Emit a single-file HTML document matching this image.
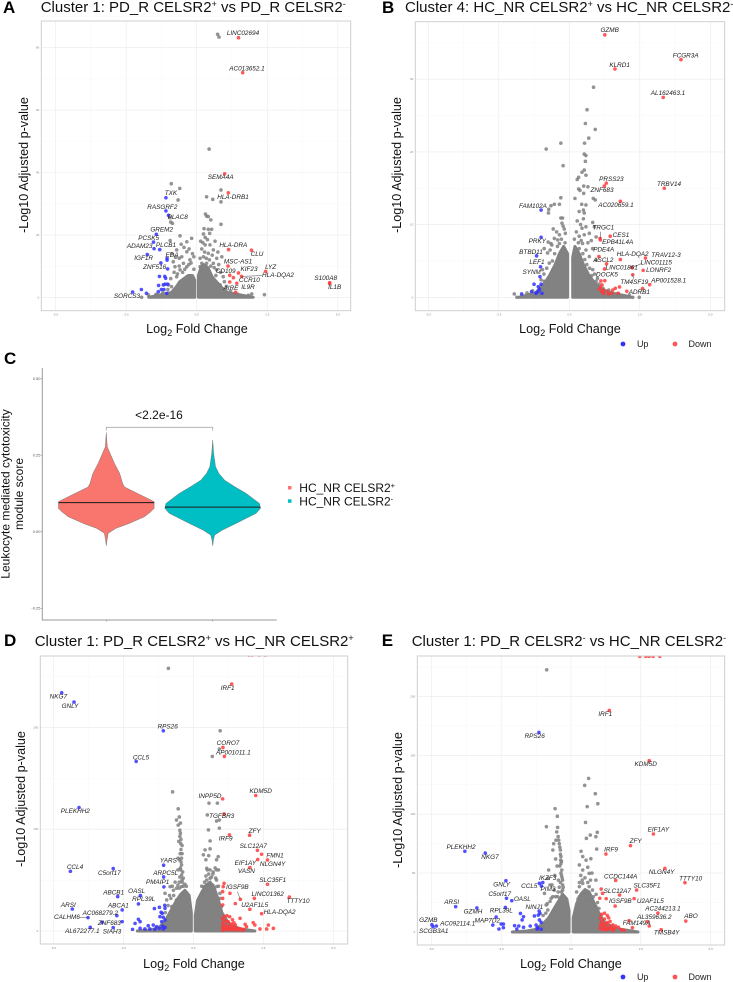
<!DOCTYPE html>
<html lang="en">
<head>
<meta charset="utf-8">
<title>CELSR2 volcano plots and cytotoxicity violin</title>
<style>
html,body{margin:0;padding:0;background:#fff;width:733px;height:982px;overflow:hidden}
svg{display:block;font-family:"Liberation Sans",sans-serif}
.ttl{font-size:15px;fill:#111}
.ltr{font-size:17px;font-weight:bold;fill:#000}
.axt{font-size:12.6px;fill:#111;text-anchor:middle}
.gl text{font:italic 19.2px "Liberation Sans",sans-serif;fill:#222;text-anchor:middle;dominant-baseline:central}
.gl line{stroke:#444;stroke-width:1.5}
.tick{font-size:3px;fill:#888}
.leg{font-size:9px;fill:#222}
</style>
</head>
<body>
<svg id="fig" xmlns="http://www.w3.org/2000/svg" width="733" height="982" viewBox="0 0 733 982">
<text class="ltr" x="3" y="13">A</text>
<text class="ttl" x="40.7" y="12">Cluster 1: PD_R CELSR2<tspan font-size="9" dy="-5">+</tspan><tspan dy="5"> vs PD_R CELSR2</tspan><tspan font-size="9" dy="-5">-</tspan></text>
<text class="ltr" x="382" y="13">B</text>
<text class="ttl" x="405" y="12">Cluster 4: HC_NR CELSR2<tspan font-size="9" dy="-5">+</tspan><tspan dy="5"> vs HC_NR CELSR2</tspan><tspan font-size="9" dy="-5">-</tspan></text>
<text class="ltr" x="4" y="364">C</text>
<text class="ltr" x="4" y="646">D</text>
<text class="ttl" x="34.7" y="646">Cluster 1: PD_R CELSR2<tspan font-size="9" dy="-5">+</tspan><tspan dy="5"> vs HC_NR CELSR2</tspan><tspan font-size="9" dy="-5">+</tspan></text>
<text class="ltr" x="381.7" y="646">E</text>
<text class="ttl" x="411.7" y="646">Cluster 1: PD_R CELSR2<tspan font-size="9" dy="-5">-</tspan><tspan dy="5"> vs HC_NR CELSR2</tspan><tspan font-size="9" dy="-5">-</tspan></text>

<text class="axt" x="197" y="333">Log<tspan font-size="9" dy="3">2</tspan><tspan dy="-3"> Fold Change</tspan></text>
<text class="axt" x="570" y="333">Log<tspan font-size="9" dy="3">2</tspan><tspan dy="-3"> Fold Change</tspan></text>
<text class="axt" x="194" y="968">Log<tspan font-size="9" dy="3">2</tspan><tspan dy="-3"> Fold Change</tspan></text>
<text class="axt" x="571" y="968">Log<tspan font-size="9" dy="3">2</tspan><tspan dy="-3"> Fold Change</tspan></text>
<text class="axt" transform="translate(28,165) rotate(-90)">-Log10 Adjusted p-value</text>
<text class="axt" transform="translate(401,165) rotate(-90)">-Log10 Adjusted p-value</text>
<text class="axt" transform="translate(25,799) rotate(-90)">-Log10 Adjusted p-value</text>
<text class="axt" transform="translate(402,800) rotate(-90)">-Log10 Adjusted p-value</text>

<g id="marks-a"></g>
<g id="marks-b"></g>
<g id="marks-c"></g>
<g id="marks-d"></g>
<g id="marks-e"></g>

<g class="gl" transform="scale(.33333)">
<line x1="725" y1="829" x2="785" y2="827"/>
<text x="729" y="101">LINC02694</text>
<text x="741" y="207">AC013652.1</text>
<text x="662" y="533">SEMA4A</text>
<text x="699" y="592">HLA-DRB1</text>
<text x="513" y="581">TXK</text>
<text x="487" y="622">RASGRF2</text>
<text x="533" y="652">PLAC8</text>
<text x="485" y="690">GREM2</text>
<text x="446" y="715">PCSK5</text>
<text x="419" y="739">ADAM23</text>
<text x="498" y="737">PLCB1</text>
<text x="700" y="737">HLA-DRA</text>
<text x="771" y="764">CLU</text>
<text x="516" y="766">EDA</text>
<text x="431" y="776">IGF1R</text>
<text x="714" y="786">MSC-AS1</text>
<text x="464" y="802">ZNF516</text>
<text x="812" y="803">LYZ</text>
<text x="747" y="808">KIF23</text>
<text x="677" y="815">CD109</text>
<text x="834" y="826">HLA-DQA2</text>
<text x="748" y="842">CCR10</text>
<text x="977" y="836">S100A8</text>
<text x="693" y="865">AIRE</text>
<text x="744" y="863">IL9R</text>
<text x="1004" y="863">IL1B</text>
<text x="381" y="889">SORCS3</text>
</g>

<g class="gl" transform="translate(366,0) scale(.33333)">
<line x1="703" y1="695" x2="703" y2="715"/>
<line x1="798" y1="803" x2="828" y2="790"/>
<line x1="800" y1="824" x2="803" y2="838"/>
<text x="731" y="92">GZMB</text>
<text x="959" y="168">FCGR3A</text>
<text x="761" y="197">KLRD1</text>
<text x="906" y="281">AL162463.1</text>
<text x="736" y="538">PRSS23</text>
<text x="909" y="553">TRBV14</text>
<text x="708" y="571">ZNF683</text>
<text x="501" y="619">FAM102A</text>
<text x="750" y="617">AC020659.1</text>
<text x="712" y="684">TRGC1</text>
<text x="765" y="707">CES1</text>
<text x="514" y="724">PRKY</text>
<text x="755" y="728">EPB41L4A</text>
<text x="713" y="750">PDE4A</text>
<text x="495" y="757">BTBD11</text>
<text x="800" y="764">HLA-DQA2</text>
<text x="900" y="766">TRAV12-3</text>
<text x="712" y="782">ASCL2</text>
<text x="513" y="788">LEF1</text>
<text x="871" y="789">LINC01115</text>
<text x="767" y="804">LINC01861</text>
<text x="878" y="811">LONRF2</text>
<text x="497" y="818">SYNM</text>
<text x="723" y="825">DOCK5</text>
<text x="908" y="843">AP001528.1</text>
<text x="805" y="848">TM4SF19</text>
<text x="820" y="877">ADRB1</text>
</g>

<g class="gl" transform="translate(0,630) scale(.33333)">
<line x1="240" y1="862" x2="264" y2="862"/>
<line x1="712" y1="785" x2="721" y2="808"/>
<text x="175" y="201">NKG7</text>
<text x="210" y="229">GNLY</text>
<text x="503" y="291">RPS26</text>
<text x="683" y="175">IRF1</text>
<text x="684" y="340">CORO7</text>
<text x="700" y="369">AP001011.1</text>
<text x="423" y="384">CCL5</text>
<text x="782" y="484">KDM5D</text>
<text x="630" y="499">INPP5D</text>
<text x="226" y="545">PLEKHH2</text>
<text x="665" y="560">TGFBR3</text>
<text x="764" y="604">ZFY</text>
<text x="677" y="627">IRF9</text>
<text x="760" y="650">SLC12A7</text>
<text x="825" y="678">FMN1</text>
<text x="736" y="700">EIF1AY</text>
<text x="818" y="703">NLGN4Y</text>
<text x="505" y="693">YARS</text>
<text x="225" y="713">CCL4</text>
<text x="739" y="725">VASN</text>
<text x="328" y="730">C5orf17</text>
<text x="497" y="730">ARPC5L</text>
<text x="818" y="752">SLC35F1</text>
<text x="473" y="758">PMAIP1</text>
<text x="712" y="773">IGSF9B</text>
<text x="410" y="785">OASL</text>
<text x="341" y="789">ABCB1</text>
<text x="803" y="794">LINC01362</text>
<text x="431" y="808">RPL39L</text>
<text x="894" y="814">TTTY10</text>
<text x="205" y="826">ARSI</text>
<text x="355" y="828">ABCA1</text>
<text x="764" y="826">U2AF1L5</text>
<text x="839" y="848">HLA-DQA2</text>
<text x="301" y="850">AC068279.2</text>
<text x="201" y="863">CALHM6</text>
<text x="328" y="881">ZNF683</text>
<text x="247" y="904">AL672277.1</text>
<text x="336" y="906">SIAH3</text>
</g>

<g class="gl" transform="translate(366,630) scale(.33333)">
<text x="506" y="319">RPS26</text>
<text x="718" y="253">IRF1</text>
<text x="839" y="404">KDM5D</text>
<text x="877" y="600">EIF1AY</text>
<text x="809" y="634">ZFY</text>
<text x="285" y="652">PLEKHH2</text>
<text x="735" y="660">IRF9</text>
<text x="372" y="682">NKG7</text>
<text x="887" y="727">NLGN4Y</text>
<text x="764" y="741">CCDC144A</text>
<text x="974" y="747">TTTY10</text>
<text x="545" y="746">IKZF3</text>
<text x="407" y="765">GNLY</text>
<text x="490" y="769">CCL5</text>
<text x="843" y="768">SLC35F1</text>
<text x="546" y="778">PIM3</text>
<text x="754" y="785">SLC12A7</text>
<text x="401" y="793">C5orf17</text>
<text x="469" y="808">OASL</text>
<text x="853" y="814">U2AF1L5</text>
<text x="763" y="815">IGSF9B</text>
<text x="257" y="818">ARSI</text>
<text x="505" y="832">NINJ1</text>
<text x="891" y="837">AC244213.1</text>
<text x="406" y="843">RPL39L</text>
<text x="321" y="846">GZMH</text>
<text x="975" y="860">ABO</text>
<text x="865" y="862">AL359636.2</text>
<text x="187" y="872">GZMB</text>
<text x="364" y="873">MAP7D2</text>
<text x="812" y="881">FAM149A</text>
<text x="275" y="882">AC092114.1</text>
<text x="203" y="904">SCGB3A1</text>
<text x="902" y="909">TMSB4Y</text>
</g>

<g>
<circle cx="623" cy="344" r="2.4" fill="#3333ff"/>
<text class="leg" x="642.7" y="347" text-anchor="middle">Up</text>
<circle cx="675" cy="344" r="2.4" fill="#ff5555"/>
<text class="leg" x="700" y="347" text-anchor="middle">Down</text>
</g>
<g>
<circle cx="623" cy="977" r="2.4" fill="#3333ff"/>
<text class="leg" x="642.7" y="980" text-anchor="middle">Up</text>
<circle cx="675" cy="977" r="2.4" fill="#ff5555"/>
<text class="leg" x="700" y="980" text-anchor="middle">Down</text>
</g>

<g>
<text transform="translate(9.5,494) rotate(-90)" font-size="12" text-anchor="middle" fill="#111">Leukocyte mediated cytotoxicity</text>
<text transform="translate(23,494) rotate(-90)" font-size="12" text-anchor="middle" fill="#111">module score</text>
<text x="159" y="419" font-size="12" text-anchor="middle" fill="#111">&lt;2.2e-16</text>
<rect x="288" y="486" width="3.5" height="3.5" fill="#F8766D"/>
<rect x="288" y="499.3" width="3.5" height="3.5" fill="#00BFC4"/>
<text x="299.3" y="492" font-size="12" fill="#111">HC_NR CELSR2<tspan font-size="7.5" dy="-4">+</tspan></text>
<text x="299.3" y="505.3" font-size="12" fill="#111">HC_NR CELSR2<tspan font-size="7.5" dy="-4">-</tspan></text>
</g>

<script>
// ---------- shared tick arrays ----------
const xTickValues = [-5, -2.5, 0, 2.5, 5];
const xTickLabels = ["-5.0", "-2.5", "0.0", "2.5", "5.0"];
const yTicksA = [0, 20, 40, 60, 80];
const yTicksB = [0, 10, 20, 30];
const yTicksD = [0, 100, 200];
const yTicksE = [0, 50, 100, 150, 200];

// ---------- panel A values: [log2FC, -log10 p] ----------
const redA = [[1.48,83.2],[1.63,72],[.99,39.6],[1.12,33.5],[1.13,15.3],[1.94,15.1],[1.11,10],[2.44,8.3],[1.48,7.8],[1.17,7.05],[1.3,6.3],[1.59,6.7],[1.42,4.5],[1.17,4.9],[1.38,1.6],[4.71,4.7],[4.71,4.4]];
const blueA = [[-1.09,31.9],[-1.09,27.7],[-1,26.3],[-1.43,20.2],[-1.53,17.7],[-1.51,15.6],[-1.31,15.3],[-1.75,13.7],[-1.05,12.5],[-1.05,11.9],[-1.27,11],[-1.03,9.1],[-1.32,6.7],[-1.13,6.7],[-1.1,6.1],[-1.35,3.8],[-1.18,4],[-1.12,4.2],[-1.03,4.2],[-1.36,1.8],[-1.25,2.5],[-1.16,2.5],[-1.06,1.3],[-2.27,1.7],[-1.96,2.5],[-1.78,1.3]];
const grayA = [[.74,84.3],[.79,83.4],[.44,47.5],[-.9,36.4],[-.6,34.9],[-.66,31.2],[.86,34.4],[.35,32.2],[.57,31.4],[.86,30.6],[.31,26.7],[.35,26],[.41,25.9],[.5,24.8],[.86,23.4],[-.94,25.5],[-.92,24.1],[-.86,23.7],[-.59,19.7],[-.18,18.9],[-.35,17.8],[-.94,18.2],[-.71,15.2],[-.35,14.6],[-.53,13],[-.83,11.4],[-.77,9.8],[.24,20.3],[.41,21.8],[.53,21.8],[.3,19.2],[.47,16.8],[.3,16.8],[.59,15.2],[.24,13],[.71,12.5],[.89,13],[.59,10.9],[.35,10.9],[.71,8.8],[.41,14.1],[.18,10.9],[.12,9.8],[.94,6.6],[.83,4],[-.47,10.9],[-.24,12],[-.59,8.8],[-.35,9.8],[-.71,6.6],[-.89,3.4],[2.4,.85],[1.95,1.07],[1.83,.64],[-1.95,0],[-1.71,.75],[-1.42,1]];
const midGrayA = [[-.2,11],[-.1,9],[-.28,10.5],[-.42,9],[-.5,8],[-.62,10],[-.68,7.5],[-.8,8],[-.92,6],[-1,4],[-.15,14],[-.27,15.5],[-.45,16],[-.55,17],[-.62,12.5],[-.75,12.8],[-.88,14],[-1.02,2.5],[-.1,13],[.12,12.5],[.18,15.5],[.22,17.5],[.28,14.5],[.34,12.5],[.45,12],[.5,10],[.55,13.5],[.62,9.5],[.68,7],[.78,10.5],[.85,8],[.98,5],[1.05,3.5],[1.2,2],[.14,18],[.38,18.5],[.46,20.5],[.26,22],[.65,18],[.75,14.5],[.16,8.5],[-1.2,1.5],[-1.45,.8],[1.45,1]];
const cloudLeftA = [[-.07,5.5],[-.15,7],[-.3,7],[-.45,6],[-.6,5],[-.75,3],[-.9,1.5],[-1.3,.8],[-1.7,0]];
const cloudRightA = [[.06,7],[.15,9.5],[.25,10.5],[.4,9.5],[.55,6.5],[.7,5],[.9,3],[1.1,1.5],[1.7,.5],[2,0]];

// ---------- panel B values ----------
const redB = [[1.26,36.1],[3.96,32.7],[1.62,31.4],[3.33,27.5],[1.31,15.7],[1.24,15.3],[3.37,15],[1.81,13.2],[1.09,8.1],[1.1,7.9],[1.45,8.4],[1.05,5.6],[1.81,5.2],[2.7,5.4],[1.32,4.6],[2.22,4.1],[1.25,3.9],[2.62,3.7],[2.25,3.1],[2.85,1.74],[2.6,1.2],[2.04,.83],[1.12,2.25],[1.26,2.29],[1.16,1.7],[1.1,1.38],[1.06,1.1],[1.16,.78],[1.21,.55],[1.36,.78],[1.54,1],[1.63,1.24],[1.78,1.42],[1.51,.55],[1.74,.55],[1.21,1],[1.39,.46]];
const blueB = [[-1,12],[-1,8.26],[-1.16,5.7],[-1.02,4.2],[-1.04,2.84],[-1.25,1.8],[-1,1.8],[-1.1,1.47],[-1.06,1.1],[-1.34,.78],[-1.16,.64],[-1.09,.87],[-.97,.55],[-1.18,.55],[-1.69,.46]];
const grayB = [[.86,28.9],[.63,25.8],[.57,23.9],[.92,23.1],[.69,21.9],[-.3,21.2],[.54,21.2],[-.82,20.4],[.53,19.7],[.59,19.5],[.57,18.7],[-.22,18.1],[.53,17.5],[.45,17.2],[.59,16.8],[.33,16.5],[.28,16.2],[.51,15.3],[.66,15.2],[.33,14.9],[.38,14.7],[.51,14.3],[.2,13.6],[.85,13.6],[.92,13.4],[-.3,13.7],[-.35,12.8],[-.53,12.8],[-.65,12.6],[-.73,12.1],[-.74,11.6],[.44,12.8],[.59,12.7],[.5,12],[.35,11.8],[.53,11.6],[-.3,10.9],[-.24,10.9],[-.26,10.2],[-.57,9.4],[-.18,9.4],[-.14,8.8],[.83,10.3],[.59,9.7],[.89,9.7],[.45,9.5],[.53,8.6],[.71,8.8],[.95,8.3],[.35,8.4],[-.53,8.1],[-.41,7.9],[-.65,7.4],[-.35,7.4],[-.89,6.7],[-.77,6.1],[-.18,6.7],[.35,6.7],[.59,6.5],[.83,6.7],[.71,5.6],[.47,7.4],[-.71,4.7],[-.95,3.8],[.95,5.1],[.83,3.8],[.71,2.8],[.95,2.2],[-.89,2.2],[-.77,1.5],[-1.95,.46],[-1.86,0],[2.48,0],[2.25,0],[2.13,.3]];
const midGrayB = [[-.15,7.5],[-.28,8],[-.42,7],[-.52,6],[-.6,5],[-.68,6.5],[-.8,4],[-.9,3.2],[-1,2.4],[-.58,3.8],[-.35,8.6],[-.45,9],[-.22,9.8],[-.62,7.2],[-.75,7.6],[.18,8],[.25,9],[.32,7.5],[.42,7.8],[.48,6],[.55,5.2],[.62,4.5],[.72,4],[.8,3],[.9,3.2],[1,2.6],[.28,10.5],[.4,10],[.5,10.8],[.66,7.5],[.78,7.8],[1.05,1.8],[1.2,1.2],[1.4,1],[1.7,.5],[-1.3,.9],[-1.5,.6]];
const cloudLeftB = [[-.06,6],[-.2,7],[-.35,6],[-.5,4.5],[-.7,3],[-.9,1.8],[-1.2,.6],[-1.6,.2],[-1.8,0]];
const cloudRightB = [[.12,5.5],[.2,7],[.35,6],[.5,4.5],[.7,3],[.9,2],[1.1,1.2],[1.5,.6],[2,.2],[2.2,0]];

// ---------- panel D values ----------
const redD = [[1.99,271],[2.1,271],[2.36,271],[2.57,271],[1.37,242.6],[1.06,180.3],[1.11,171.5],[1.05,129.8],[2.23,133.1],[1.1,115],[1.29,94.4],[2.01,94.1],[2.29,79.3],[2.44,75.4],[2.3,70.2],[2.65,69.8],[2.02,62.3],[2.65,45.9],[1.1,46.9],[1.07,43.6],[1.68,31.1],[2.18,32.1],[3.43,33.4],[2.02,21.3],[1.31,37],[1.5,26.9],[2.44,17],[1.05,38.7],[1.05,32.1],[1.05,25.6],[1.67,12.5],[1.85,6.6],[1.9,4.3],[2.14,8.2],[2.2,5.9],[2.68,5.9],[2.86,2.6],[2.62,2],[2.38,2],[1.05,12],[1.1,14],[1.2,15],[1.3,14],[1.4,11],[1.45,8],[1.5,6],[1.05,8],[1.05,4],[1.05,1],[1.15,10],[1.25,9],[1.35,7],[1.2,5],[1.3,4],[1.1,6],[1.4,4],[1.5,3],[1.6,2.5],[1.7,2],[1.8,1.5],[1.15,2],[1.25,1.5],[1.35,1.5],[1.45,1.2],[1.1,1.5],[1.2,3],[1.3,2],[1.6,1],[1.75,.8]];
const blueD = [[-4.7,234],[-4.26,224.9],[-1.07,196.7],[-2.04,166.6],[-4.08,121.3],[-4.39,58.7],[-2.86,61.3],[-1.06,64.6],[-1.06,53.1],[-1.05,43.3],[-2.7,33.8],[-1.89,34.8],[-1.96,26.6],[-2.54,20.7],[-4.32,21.6],[-2.73,15.1],[-3.76,13.1],[-2.54,9.2],[-3.26,8.5],[-3.68,3.6],[-2.86,3.3],[-1.39,22],[-1.21,23.3],[-1.02,25.2],[-1.15,18.4],[-1.11,17.4],[-1.01,22.3],[-1.19,14.1],[-1.07,13.4],[-1.01,10.8],[-1.13,9.2],[-1.96,11.5],[-1.9,9.2],[-2.08,7.5],[-1.61,5.2],[-1.43,5.9],[-1.31,4.3],[-1.1,4.9],[-1.01,3.6],[-1.21,2.6],[-1.55,2],[-1.9,2.6],[-2.17,1.6],[-1.73,2],[-1.37,1.6],[-1.07,2]];
const grayD = [[-.89,258],[.96,196.7],[.93,178.7],[.68,171.5],[-.74,136.7],[.56,125.6],[.86,125.6],[-.54,120],[.5,114],[.83,108],[.93,109],[.54,99.3],[.93,101],[.6,88.5],[.42,79.7],[.6,80.7],[.36,74.8],[.89,73],[.83,70],[.48,61.6],[.83,60],[.6,51.8],[.71,58],[-.6,109],[-.54,104],[-.48,99],[-.48,93],[-.45,86],[-.44,80],[-.42,71.5],[-.54,71.5],[-.42,65],[-.38,58],[-.48,53],[-.36,52],[-.42,43.6],[-.36,37],[-.83,43.6],[-.71,40],[-1.01,37],[-.6,30.5],[-.95,30.5],[-.77,24],[.48,50],[.65,53],[.83,50],[.36,43.6],[.83,43.6],[.24,33.8],[.95,37],[.71,37],[-.5,112],[-.46,96],[-.44,90],[-.4,76],[-.45,60],[-.4,48],[-.5,42],[.55,45],[.7,45]];
const midGrayD = [[-.42,55],[-.4,50],[-.46,62],[-.44,68],[-.4,84],[-.47,76],[-.52,88],[-.46,106],[-.36,44],[-.3,46],[-.5,48],[-.55,45],[-.6,42],[-.65,48],[-.7,35],[-.8,32],[-.9,25],[-.85,35],[-1,18],[-.3,38],[-.25,44],[-.75,44],[-.55,60],[-.5,70],[.45,54],[.55,56],[.7,56],[.8,52],[.9,44],[.4,48],[.35,38],[.3,44],[.95,32],[1,24],[.5,60],[.6,60],[.78,62],[.9,60],[.45,70],[.55,74],[1.15,8],[1.3,5]];
const cloudLeftD = [[-.07,18],[-.15,35],[-.3,40],[-.45,36],[-.6,30],[-.8,20],[-1,10],[-1.2,4],[-1.5,1],[-2,0]];
const cloudRightD = [[.07,15],[.15,30],[.3,38],[.45,45],[.6,48],[.75,42],[.9,30],[1.02,18],[1.3,6],[1.7,2],[2.2,0]];

// ---------- panel E values ----------
const redE = [[2.46,234],[2.68,234],[2.8,234],[2.94,234],[3.18,234],[1.37,188.1],[2.8,145.4],[2.95,83.2],[2.13,73.3],[1.25,66.2],[3.36,54],[1.6,43.8],[4.08,41.9],[1.08,36.5],[1.13,32.8],[1.74,31.4],[2.35,35.6],[2.26,28.3],[1.03,28.6],[1.26,28.3],[1.58,22],[3.11,16.1],[2.74,8.8],[4.11,9.3],[2.08,9.6],[2.2,3.7],[3.23,2],[2.8,5.1],[1.05,12],[1.1,15],[1.2,16],[1.3,14],[1.35,12],[1.4,9],[1.05,6],[1.1,9],[1.2,11],[1.3,8],[1.4,5],[1.5,6],[1.6,5],[1.05,3],[1.15,5],[1.25,4],[1.35,3],[1.45,3],[1.55,2.5],[1.7,4],[1.8,2],[1.9,1.5],[1.1,2.5],[1.2,2],[1.3,2],[1.5,1.5],[1.15,7],[1.25,7]];
const blueE = [[-1.15,169.4],[-3.8,68.5],[-3.07,67],[-2.33,43.6],[-1.13,41.3],[-1.06,39],[-1.01,42],[-2.31,28.6],[-2.12,26.6],[-4.13,21.5],[-3.37,20.4],[-2.35,20.9],[-1.14,17.8],[-2.68,12.7],[-4.98,6.2],[-4.94,4.5],[-4.82,5.1],[-2.8,5.9],[-2.5,6.8],[-2.42,6.8],[-2.58,2.5],[-2.42,3.7],[-1.81,15.8],[-1.7,13],[-1.75,10.2],[-2.02,5.4],[-1.87,5.1],[-1.94,2.5],[-1.7,4],[-1.46,5.1],[-1.25,5.9],[-1.19,3.7],[-1.13,10.2],[-1.07,8.2],[-1.31,13.6],[-1.17,14.4],[-1.11,15.8],[-1.21,2.5],[-1.07,2.3]];
const grayE = [[-.87,222.6],[.63,130.4],[.49,124.5],[.87,117.4],[.96,108.9],[.58,106.4],[-.57,104.7],[-.49,98.2],[.52,93],[-.88,89.4],[-.48,88.8],[.94,84.6],[.69,82.3],[.55,79.5],[.89,80.9],[.36,68.5],[.92,70.4],[.54,61],[.71,62.2],[.42,52.6],[.3,56.9],[.65,49.8],[.89,44],[.42,41.3],[.77,35.6],[-.51,85],[-.46,81],[-.42,75],[-.38,69.6],[-.36,64],[-.36,58],[-.54,78],[-.62,75],[-.65,69.6],[-.33,52.6],[-.3,44],[-.8,52.6],[-.83,45.5],[-.75,39.9],[-.95,32.8],[-.3,35.6],[-.6,35.6],[-.48,30],[-.71,28.6],[-.89,22.9],[-.83,18.7],[.3,38.5],[.48,32.8],[.65,38.5],[.77,27],[.3,30],[.6,27],[.89,21.5],[-.44,78],[-.4,72],[-.37,61],[-.34,48],[-.3,40]];
const midGrayE = [[-.38,66],[-.34,60],[-.4,56],[-.36,50],[-.32,46],[-.38,42],[-.42,38],[-.46,34],[-.55,30],[-.65,30],[-.75,26],[-.85,24],[-.9,16],[-1,14],[-.28,38],[-.34,34],[-.45,44],[-.5,56],[-.55,62],[-.58,48],[-.68,40],[.2,34],[.3,42],[.4,44],[.5,46],[.6,42],[.7,44],[.8,30],[.9,32],[.95,25],[1,20],[1.05,14],[.42,64],[.6,55],[.75,50],[.35,48],[1.3,6],[.25,28]];
const cloudLeftE = [[-.07,18],[-.15,28],[-.3,32],[-.45,26],[-.6,20],[-.8,12],[-1,7],[-1.3,2],[-1.6,.8],[-2.1,0]];
const cloudRightE = [[.08,12],[.2,24],[.35,32],[.5,36],[.65,34],[.8,26],[1,16],[1.2,8],[1.6,3],[2.4,0]];

// ---------- panel C values ----------
const violinTicks = [0.5, 0.25, 0, -0.25];
const violinTickLabels = ["0.50", "0.25", "0.00", "-0.25"];
const violinScoresPos = [.323,.277,.255,.223,.19,.158,.146,.125,.109,.098,.076,.065,.049,.027,.011,-.005,-.027,-.046];
const violinDensityPos = [0,.02,.08,.17,.28,.34,.38,.65,.86,1,1,.93,.8,.48,.2,.04,.015,0];
const violinScoresNeg = [.299,.255,.212,.19,.168,.147,.125,.092,.076,.06,.049,.027,.005,-.011,-.027,-.046];
const violinDensityNeg = [0,.02,.06,.13,.25,.46,.7,.98,1,.91,.77,.49,.2,.04,.015,0];
const violinMedians = [.095, .08];

// ---------- drawing ----------
const NS = "http://www.w3.org/2000/svg";
function mk(tag, parent, attrs) {
  const el = document.createElementNS(NS, tag);
  for (const k in attrs) el.setAttribute(k, attrs[k]);
  parent.appendChild(el);
  return el;
}
function drawVolcano(id, g, yTicks, yStep, gray, blue, red, cloudL, cloudR, r) {
  const host = document.getElementById(id);
  const sx = v => g.x0 + v * g.kx;
  const sy = v => g.y0 - v * g.ky;
  const clip = mk("clipPath", host, { id: id + "-clip" });
  mk("rect", clip, { x: g.l, y: g.t, width: g.r - g.l, height: g.b - g.t });
  const grid = mk("g", host, {});
  
  
  xTickValues.forEach((v, i) => {
    mk("line", grid, { x1: sx(v), x2: sx(v), y1: g.t, y2: g.b, stroke: "#ebebeb", "stroke-width": .6 });
    if (i < xTickValues.length - 1) mk("line", grid, { x1: sx(v + 1.25), x2: sx(v + 1.25), y1: g.t, y2: g.b, stroke: "#f5f5f5", "stroke-width": .4 });
    const t = mk("text", grid, { x: sx(v), y: g.b + 5, class: "tick", "text-anchor": "middle" });
    
    
    t.textContent = xTickLabels[i];
  });
  yTicks.forEach(v => {
    mk("line", grid, { x1: g.l, x2: g.r, y1: sy(v), y2: sy(v), stroke: "#ebebeb", "stroke-width": .6 });
    mk("line", grid, { x1: g.l, x2: g.r, y1: sy(v + yStep / 2), y2: sy(v + yStep / 2), stroke: "#f5f5f5", "stroke-width": .4 });
    const t = mk("text", grid, { x: g.l - 2, y: sy(v) + 1, class: "tick", "text-anchor": "end" });
    
    
    t.textContent = String(v);
  });
  const plot = mk("g", host, { "clip-path": "url(#" + id + "-clip)" });
  
  
  [cloudL, cloudR].forEach(env => {
    const pts = [[env[0][0], 0]].concat(env);
    const c = mk("polygon", plot, { points: pts.map(p => sx(p[0]) + "," + sy(p[1])).join(" "), fill: "#828282", stroke: "#828282", "stroke-width": 3, "stroke-linejoin": "round" });
    
    
  });
  gray.forEach(p => {
    const c = mk("circle", plot, { cx: sx(p[0]), cy: sy(p[1]), r: r, fill: "#808080", "fill-opacity": .85 });
    
    
  });
  blue.forEach(p => {
    const c = mk("circle", plot, { cx: sx(p[0]), cy: sy(p[1]), r: r, fill: "#3333ff", "fill-opacity": .85 });
    
    
  });
  red.forEach(p => {
    const c = mk("circle", plot, { cx: sx(p[0]), cy: sy(p[1]), r: r, fill: "#ff3b3b", "fill-opacity": .85 });
    
    
  });
  const f = mk("rect", host, { x: g.l, y: g.t, width: g.r - g.l, height: g.b - g.t, fill: "none", stroke: "#cfcfcf", "stroke-width": 1 });
  
  
}
drawVolcano("marks-a", { l: 41.3, r: 350.7, t: 21, b: 310.7, x0: 196.7, kx: 28.23, y0: 297.3, ky: 3.12 }, yTicksA, 20, grayA.concat(midGrayA), blueA, redA, cloudLeftA, cloudRightA, 1.8);
drawVolcano("marks-b", { l: 415.3, r: 724.7, t: 21.7, b: 310.7, x0: 569.3, kx: 28.2, y0: 297.3, ky: 7.27 }, yTicksB, 10, grayB.concat(midGrayB), blueB, redB, cloudLeftB, cloudRightB, 1.8);
drawVolcano("marks-d", { l: 40.3, r: 347.7, t: 656, b: 944, x0: 193.3, kx: 28, y0: 931, ky: 1.018 }, yTicksD, 100, grayD.concat(midGrayD), blueD, redD, cloudLeftD, cloudRightD, 1.8);
drawVolcano("marks-e", { l: 417.3, r: 724.7, t: 656, b: 945, x0: 571, kx: 27.93, y0: 932, ky: 1.178 }, yTicksE, 50, grayE.concat(midGrayE), blueE, redE, cloudLeftE, cloudRightE, 1.8);

(function drawViolin() {
  const host = document.getElementById("marks-c");
  const sy = v => 531.7 - v * 306.5;
  const halfWidth = 47.8;
  const axes = mk("path", host, { d: "M42.3 368V620H276.7", fill: "none", stroke: "#999", "stroke-width": 1 });
  
  
  violinTicks.forEach((v, i) => {
    mk("line", host, { x1: 41, x2: 42.3, y1: sy(v), y2: sy(v), stroke: "#777", "stroke-width": .5 });
    const t = mk("text", host, { x: 40.5, y: sy(v) + 1.4, "font-size": 4, fill: "#555", "text-anchor": "end" });
    
    
    t.textContent = violinTickLabels[i];
  });
  const sets = [
    { cx: 106.3, s: violinScoresPos, d: violinDensityPos, col: "#F8766D", med: violinMedians[0], name: "violin-celsr2-positive" },
    { cx: 212.7, s: violinScoresNeg, d: violinDensityNeg, col: "#00BFC4", med: violinMedians[1], name: "violin-celsr2-negative" }
  ];
  sets.forEach(v => {
    let d = "";
    v.s.forEach((s, i) => { d += (i ? "L" : "M") + (v.cx + v.d[i] * halfWidth) + " " + sy(s); });
    for (let i = v.s.length - 1; i >= 0; i--) d += "L" + (v.cx - v.d[i] * halfWidth) + " " + sy(v.s[i]);
    const p = mk("path", host, { d: d + "Z", fill: v.col, stroke: "#777", "stroke-width": .5, "stroke-linejoin": "round" });
    
    
    const m = mk("line", host, { x1: v.cx - halfWidth, x2: v.cx + halfWidth, y1: sy(v.med), y2: sy(v.med), stroke: "#1a1a1a", "stroke-width": 1 });
    
    
    mk("line", host, { x1: v.cx, x2: v.cx, y1: 620, y2: 621.5, stroke: "#777", "stroke-width": .5 });
  });
  const b = mk("path", host, { d: "M106.3 430.7V427.3H212.7V430.7", fill: "none", stroke: "#aaa", "stroke-width": .8 });
  
  
})();
</script>
</svg>
</body>
</html>
